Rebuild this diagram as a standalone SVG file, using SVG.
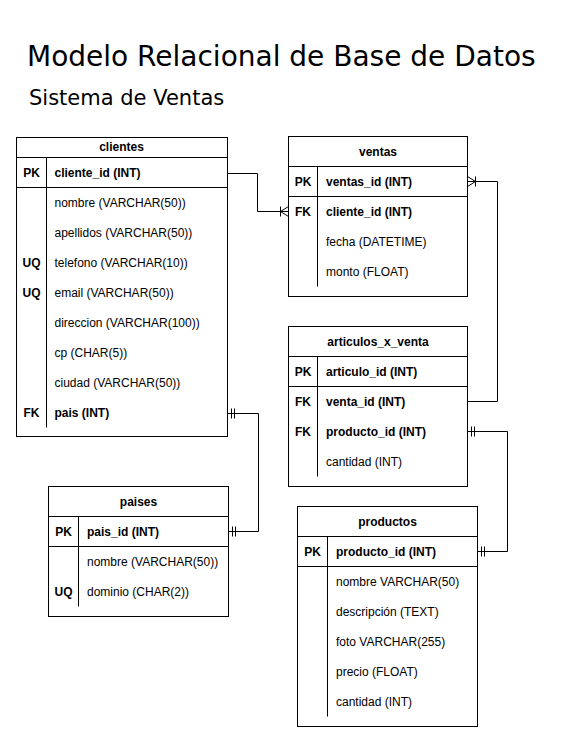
<svg xmlns="http://www.w3.org/2000/svg" width="563" height="743" viewBox="0 0 563 743">
<style>
.box{fill:#fff;stroke:#000;stroke-width:1}
.ln{stroke:#000;stroke-width:1;fill:none}
.t{font-family:"Liberation Sans",Arial,sans-serif;font-size:12px;fill:#000}
.b{font-weight:bold}
.c{text-anchor:middle}
.h1{font-family:"DejaVu Sans",Verdana,sans-serif;font-size:28px;fill:#000}
.h2{font-family:"DejaVu Sans",Verdana,sans-serif;font-size:21px;fill:#000}
</style>
<defs>
<marker id="one" viewBox="0 0 10 10" refX="10" refY="5" markerWidth="10" markerHeight="10" markerUnits="userSpaceOnUse" orient="auto-start-reverse" overflow="visible">
<path d="M6,0V10M3,0V10" stroke="#000" stroke-width="1" fill="none"/>
</marker>
<marker id="many" viewBox="0 0 10 10" refX="10" refY="5" markerWidth="10" markerHeight="10" markerUnits="userSpaceOnUse" orient="auto-start-reverse" overflow="visible">
<path d="M2,5L10,0M2,5L10,10M2,0V10" stroke="#000" stroke-width="1" fill="none"/>
</marker>
</defs>
<rect width="563" height="743" fill="#fff"/>
<text class="h1" x="27" y="66">Modelo Relacional de Base de Datos</text>
<text class="h2" x="29" y="105">Sistema de Ventas</text>

<g id="clientes">
<rect class="box" x="16.5" y="137.5" width="211" height="299"/>
<path class="ln" d="M16.5,157.5H227.5M16.5,187.5H227.5M46.5,157.5V427.5"/>
<text class="t b c" x="121.5" y="151">clientes</text>
<text class="t b c" x="31.5" y="177">PK</text>
<text class="t b" x="54.5" y="177">cliente_id (INT)</text>
<text class="t" x="54.5" y="207">nombre (VARCHAR(50))</text>
<text class="t" x="54.5" y="237">apellidos (VARCHAR(50))</text>
<text class="t b c" x="31.5" y="267">UQ</text>
<text class="t" x="54.5" y="267">telefono (VARCHAR(10))</text>
<text class="t b c" x="31.5" y="297">UQ</text>
<text class="t" x="54.5" y="297">email (VARCHAR(50))</text>
<text class="t" x="54.5" y="327">direccion (VARCHAR(100))</text>
<text class="t" x="54.5" y="357">cp (CHAR(5))</text>
<text class="t" x="54.5" y="387">ciudad (VARCHAR(50))</text>
<text class="t b c" x="31.5" y="417">FK</text>
<text class="t b" x="54.5" y="417">pais (INT)</text>
</g>

<g id="ventas">
<rect class="box" x="288.5" y="136.5" width="179" height="160"/>
<path class="ln" d="M288.5,166.5H467.5M288.5,196.5H467.5M317.5,166.5V286.5"/>
<text class="t b c" x="378" y="156">ventas</text>
<text class="t b c" x="303" y="186">PK</text>
<text class="t b" x="326" y="186">ventas_id (INT)</text>
<text class="t b c" x="303" y="216">FK</text>
<text class="t b" x="326" y="216">cliente_id (INT)</text>
<text class="t" x="326" y="246">fecha (DATETIME)</text>
<text class="t" x="326" y="276">monto (FLOAT)</text>
</g>

<g id="articulos_x_venta">
<rect class="box" x="288.5" y="326.5" width="179" height="160"/>
<path class="ln" d="M288.5,356.5H467.5M288.5,386.5H467.5M317.5,356.5V476.5"/>
<text class="t b c" x="378" y="346">articulos_x_venta</text>
<text class="t b c" x="303" y="376">PK</text>
<text class="t b" x="326" y="376">articulo_id (INT)</text>
<text class="t b c" x="303" y="406">FK</text>
<text class="t b" x="326" y="406">venta_id (INT)</text>
<text class="t b c" x="303" y="436">FK</text>
<text class="t b" x="326" y="436">producto_id (INT)</text>
<text class="t" x="326" y="466">cantidad (INT)</text>
</g>

<g id="paises">
<rect class="box" x="48.5" y="486.5" width="180" height="130"/>
<path class="ln" d="M48.5,516.5H228.5M48.5,546.5H228.5M78.5,516.5V606.5"/>
<text class="t b c" x="138.5" y="506">paises</text>
<text class="t b c" x="63.5" y="536">PK</text>
<text class="t b" x="87" y="536">pais_id (INT)</text>
<text class="t" x="87" y="566">nombre (VARCHAR(50))</text>
<text class="t b c" x="63.5" y="596">UQ</text>
<text class="t" x="87" y="596">dominio (CHAR(2))</text>
</g>

<g id="productos">
<rect class="box" x="297.5" y="506.5" width="180" height="220"/>
<path class="ln" d="M297.5,536.5H477.5M297.5,566.5H477.5M327.5,536.5V716.5"/>
<text class="t b c" x="387.5" y="526">productos</text>
<text class="t b c" x="312.5" y="556">PK</text>
<text class="t b" x="336" y="556">producto_id (INT)</text>
<text class="t" x="336" y="586">nombre VARCHAR(50)</text>
<text class="t" x="336" y="616">descripción (TEXT)</text>
<text class="t" x="336" y="646">foto VARCHAR(255)</text>
<text class="t" x="336" y="676">precio (FLOAT)</text>
<text class="t" x="336" y="706">cantidad (INT)</text>
</g>

<g id="connectors">
<path class="ln" d="M227.5,173.5H257.5V211.5H288.5" marker-end="url(#many)"/>
<path class="ln" d="M467.5,401.5H497.5V181.5H467.5" marker-end="url(#many)"/>
<path class="ln" d="M227.5,413.5H258.5V531.5H228.5" marker-start="url(#one)" marker-end="url(#one)"/>
<path class="ln" d="M467.5,431.5H507.5V551.5H477.5" marker-start="url(#one)" marker-end="url(#one)"/>
</g>
</svg>
